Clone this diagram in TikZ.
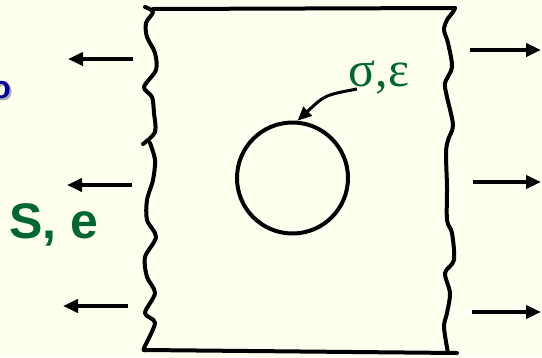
\documentclass[tikz,border=0pt]{standalone}
\usepackage{fontspec}
\setmainfont{Liberation Serif}
\newfontfamily\labelsans{Liberation Sans}
\usetikzlibrary{arrows.meta,positioning,shapes.geometric}
\definecolor{slidecream}{RGB}{255,255,240}
\definecolor{slidegreen}{RGB}{0,102,51}
\definecolor{slideblue}{RGB}{0,0,160}
\definecolor{shadowgray}{RGB}{175,175,175}
\tikzset{
  force/.style={-{Triangle[length=15pt,width=13pt]}, line width=4pt},
  edge/.style={line width=4pt, line join=round, line cap=round},
}

\begin{document}
\begin{tikzpicture}[x=1pt,y=-1pt]
% Background
\fill[slidecream] (0,0) rectangle (542,357);
\useasboundingbox (0,0) rectangle (542,357);
\clip (0,0) rectangle (542,357);
% Cut-off title letter
\node[anchor=base east, inner sep=0pt, text=shadowgray, font=\labelsans\bfseries\fontsize{32}{36}\selectfont] (titleshadow) at (13,100) {o};
\node[anchor=base east, inner sep=0pt, text=slideblue, font=\labelsans\bfseries\fontsize{32}{36}\selectfont] (title) at (11,98) {o};
% Specimen: straight ends
\draw[edge] (153,9) -- (455,8);
\draw[edge] (145,350) -- (457,353);
% Specimen: broken sides
\draw[edge] plot[smooth, tension=0.5] coordinates {(145,7) (153,12) (146,23) (147,37) (155,53) (156,70) (144,87) (152,97) (154,113) (155,132) (143,144)};
\draw[edge] plot[smooth, tension=0.5] coordinates {(150,143) (155,160) (153,180) (147,200) (147,220) (156,237) (145,257) (147,277) (155,293) (145,313) (155,323) (144,348) (145,350)};
\draw[edge] plot[smooth, tension=0.5] coordinates {(455,8) (453,12) (447,20) (444,30) (448,43) (452,67) (445,83) (447,97) (453,125) (448,140) (446,153) (447,187) (447,220) (452,233) (454,260) (445,273) (450,293) (447,313) (444,327) (448,353)};
% Hole
\node[circle, draw, line width=4pt, minimum size=111pt, inner sep=0pt] (hole) at (292.5,178) {};
% Local stress and strain
\node[anchor=base, inner sep=0pt, text=slidegreen, font=\fontsize{50}{56}\selectfont] (local) at (379,86) {σ,ε};
\draw[-{Triangle[length=14pt,width=12pt]}, line width=3pt] (357,89) .. controls (325,95) .. (hole.85);
% Nominal stress and strain
\node[anchor=base west, inner sep=0pt, text=slidegreen, font=\labelsans\bfseries\fontsize{50}{60}\selectfont] (nominal) at (9,238) {S, e};
% Applied load
\foreach \yl/\xt in {59/133, 185/132, 306/128}
  \draw[force] (\xt,\yl) -- ++(-65,0);
\foreach \yr/\xt in {50/470, 182/473, 312/472}
  \draw[force] (\xt,\yr) -- (541,\yr);
\end{tikzpicture}
\end{document}
